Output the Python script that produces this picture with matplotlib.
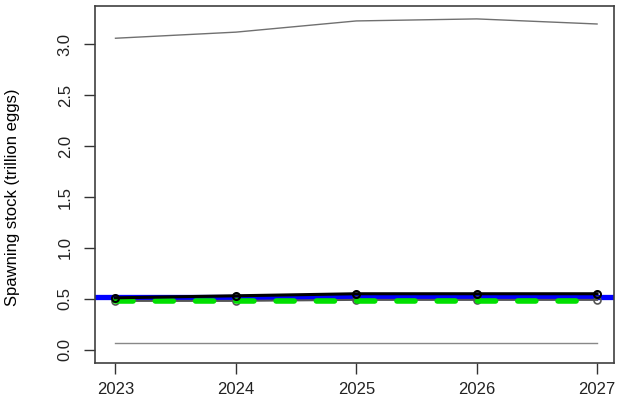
import matplotlib
matplotlib.use("Agg")
import matplotlib.pyplot as plt

plt.rcParams['font.family'] = ['Liberation Sans', 'DejaVu Sans']
plt.rcParams['lines.scale_dashes'] = False

# data
years = [2023, 2024, 2025, 2026, 2027]
upper = [3.06, 3.12, 3.23, 3.25, 3.20]     # upper bound
lower = [0.07, 0.07, 0.07, 0.07, 0.07]     # lower bound
median = [0.51, 0.53, 0.55, 0.55, 0.55]    # black line with points
mean2 = [0.48, 0.48, 0.49, 0.49, 0.49]     # grey line with points
target = [0.475, 0.475, 0.475, 0.475, 0.475]  # green dashed
ref_level = 0.52                            # blue horizontal line

fig = plt.figure(figsize=(6.17, 4.12), dpi=100)
ax = fig.add_axes([0.154, 0.119, 0.841, 0.866])

ax.axhline(ref_level, color="#0000ff", lw=3.8, zorder=2)
ax.plot(years, upper, color="#707070", lw=1.0, zorder=3)
ax.plot(years, lower, color="#888888", lw=1.0, zorder=3)
ax.plot(years, mean2, color="#555555", lw=1.5, marker="o", ms=5,
        mfc="none", mec="#555555", mew=1.2, zorder=3)
ax.plot(years, target, color="#00e000", lw=4, dashes=(13, 16),
        dash_capstyle="round", zorder=4)
ax.plot(years, median, color="black", lw=2.2, marker="o", ms=5,
        mfc="none", mec="black", mew=1.5, zorder=5)

ax.set_xlim(2022.83, 2027.14)
ax.set_ylim(-0.13, 3.375)
ax.set_xticks(years)
ax.set_yticks([0.0, 0.5, 1.0, 1.5, 2.0, 2.5, 3.0])
ax.set_yticklabels(["0.0", "0.5", "1.0", "1.5", "2.0", "2.5", "3.0"],
                   rotation=90, va="center")
ax.tick_params(axis="both", length=8, width=1, color="#333333",
               labelsize=12, labelcolor="#222222")
ax.tick_params(axis="x", pad=6)
ax.tick_params(axis="y", pad=8)
for s in ax.spines.values():
    s.set_color("#404040")
    s.set_linewidth(1.2)

ax.set_ylabel("Spawning stock (trillion eggs)", fontsize=12)
ax.yaxis.set_label_coords(-0.145, 0.465)

fig.savefig("out.png", dpi=100)
